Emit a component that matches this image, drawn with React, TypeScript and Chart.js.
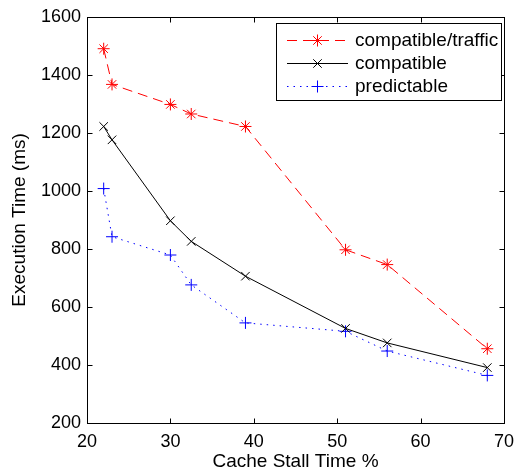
import React, { useEffect, useRef } from "react";
import { Chart, registerables } from "chart.js";

Chart.register(...registerables);

const cacheStallPct = [22, 23, 30, 32.5, 39, 51, 56, 68];
const compatibleTraffic = [1490, 1367, 1298, 1265, 1222, 797, 746, 456];
const compatible = [1222, 1176, 897, 826, 706, 526, 476, 391];
const predictable = [1008, 842, 779, 676, 545, 516, 448, 364];
const seriesLabels = ["compatible/traffic", "compatible", "predictable"];
const xAxisTitle = "Cache Stall Time %";
const yAxisTitle = "Execution Time (ms)";

const FONT = "'Liberation Sans', Arial, Helvetica, sans-serif";

function drawMarker(ctx: CanvasRenderingContext2D, style: string, x: number, y: number, r: number, color: string) {
  ctx.save();
  ctx.setLineDash([]);
  ctx.strokeStyle = color;
  ctx.lineWidth = 1;
  ctx.beginPath();
  if (style === "star" || style === "cross") {
    ctx.moveTo(x - r, y);
    ctx.lineTo(x + r, y);
    ctx.moveTo(x, y - r);
    ctx.lineTo(x, y + r);
  }
  if (style === "star" || style === "crossRot") {
    const d = r * 0.7071;
    ctx.moveTo(x - d, y - d);
    ctx.lineTo(x + d, y + d);
    ctx.moveTo(x - d, y + d);
    ctx.lineTo(x + d, y - d);
  }
  ctx.stroke();
  ctx.restore();
}

const frameAndLegend = {
  id: "frameAndLegend",
  afterDraw(chart: any) {
    const ctx: CanvasRenderingContext2D = chart.ctx;
    const { left, right, top, bottom } = chart.chartArea;
    const xs = chart.scales.x;
    const ys = chart.scales.y;
    const L = Math.round(left) + 0.5;
    const R = Math.round(right) + 0.5;
    const T = Math.round(top) + 0.5;
    const B = Math.round(bottom) + 0.5;
    ctx.save();
    ctx.strokeStyle = "#000";
    ctx.lineWidth = 1;
    ctx.setLineDash([]);
    ctx.strokeRect(L, T, R - L, B - T);
    const tl = 5;
    ctx.beginPath();
    xs.ticks.forEach((t: any) => {
      const px = Math.round(xs.getPixelForValue(t.value)) + 0.5;
      ctx.moveTo(px, B);
      ctx.lineTo(px, B - tl);
      ctx.moveTo(px, T);
      ctx.lineTo(px, T + tl);
    });
    ys.ticks.forEach((t: any) => {
      const py = Math.round(ys.getPixelForValue(t.value)) + 0.5;
      ctx.moveTo(L, py);
      ctx.lineTo(L + tl, py);
      ctx.moveTo(R, py);
      ctx.lineTo(R - tl, py);
    });
    ctx.stroke();

    // legend
    const bx = 276.5, by = 23.5, bw = 225, bh = 77;
    ctx.fillStyle = "#fff";
    ctx.fillRect(bx, by, bw, bh);
    ctx.strokeRect(bx, by, bw, bh);
    const rows = [40, 63, 86];
    chart.data.datasets.forEach((ds: any, i: number) => {
      const y = rows[i] + 0.5;
      ctx.save();
      ctx.strokeStyle = ds.borderColor;
      ctx.lineWidth = ds.borderWidth;
      ctx.setLineDash(ds.borderDash || []);
      ctx.beginPath();
      ctx.moveTo(287, y);
      ctx.lineTo(348, y);
      ctx.stroke();
      ctx.restore();
      drawMarker(ctx, ds.pointStyle, 317.5, y, ds.pointRadius, ds.borderColor);
      ctx.fillStyle = "#000";
      ctx.font = `19px ${FONT}`;
      ctx.textBaseline = "middle";
      ctx.textAlign = "left";
      ctx.fillText(ds.label, 355, rows[i] + 1);
    });
    ctx.restore();
  },
};

export default function App() {
  const ref = useRef<HTMLCanvasElement | null>(null);
  useEffect(() => {
    document.body.style.margin = "0";
    const canvas = ref.current!;
    const mk = (vals: number[]) => cacheStallPct.map((x, i) => ({ x, y: vals[i] }));
    const chart = new Chart(canvas, {
      type: "line",
      data: {
        datasets: [
          {
            label: seriesLabels[0],
            data: mk(compatibleTraffic),
            borderColor: "#ff0000",
            backgroundColor: "#ff0000",
            borderWidth: 1,
            borderDash: [10, 6],
            pointStyle: "star",
            pointRadius: 6,
            pointBorderWidth: 1,
            fill: false,
          },
          {
            label: seriesLabels[1],
            data: mk(compatible),
            borderColor: "#000000",
            backgroundColor: "#000000",
            borderWidth: 1,
            borderDash: [],
            pointStyle: "crossRot",
            pointRadius: 6,
            pointBorderWidth: 1,
            fill: false,
          },
          {
            label: seriesLabels[2],
            data: mk(predictable),
            borderColor: "#0000ff",
            backgroundColor: "#0000ff",
            borderWidth: 1,
            borderDash: [1.5, 5],
            pointStyle: "cross",
            pointRadius: 6,
            pointBorderWidth: 1,
            fill: false,
          },
        ],
      } as any,
      options: {
        animation: false,
        responsive: false,
        devicePixelRatio: 1,
        layout: { padding: { top: 16, right: 12, left: 0, bottom: 0 } },
        plugins: { legend: { display: false }, tooltip: { enabled: false } },
        scales: {
          x: {
            type: "linear",
            min: 20,
            max: 70,
            ticks: { stepSize: 10, color: "#000", font: { family: FONT, size: 18 }, padding: 8, callback: (v: any) => String(v) },
            grid: { display: false, drawTicks: false },
            border: { display: false },
            title: { display: true, text: xAxisTitle, color: "#000", font: { family: FONT, size: 19, lineHeight: 1 }, padding: { top: 0, bottom: 0 } },
            afterFit: (s: any) => { s.height = 48; },
          },
          y: {
            type: "linear",
            min: 200,
            max: 1600,
            ticks: { stepSize: 200, color: "#000", font: { family: FONT, size: 18 }, padding: 6, callback: (v: any) => String(v) },
            grid: { display: false, drawTicks: false },
            border: { display: false },
            title: { display: true, text: yAxisTitle, color: "#000", font: { family: FONT, size: 19, lineHeight: 1 }, padding: { top: 10, bottom: 0 } },
            afterFit: (s: any) => { s.width = 87; },
          },
        },
      } as any,
      plugins: [frameAndLegend],
    });
    return () => chart.destroy();
  }, []);
  return (
    <div style={{ width: 522, height: 471, background: "#fff" }}>
      <canvas ref={ref} width={522} height={471} style={{ display: "block" }} />
    </div>
  );
}
